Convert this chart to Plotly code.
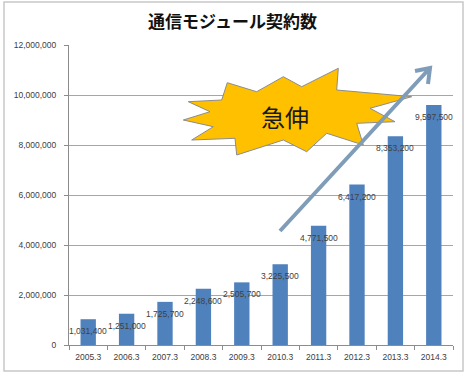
import plotly.graph_objects as go

categories = ["2005.3", "2006.3", "2007.3", "2008.3", "2009.3",
              "2010.3", "2011.3", "2012.3", "2013.3", "2014.3"]
contracts = [1031400, 1251000, 1725700, 2248600, 2505700,
             3225500, 4771500, 6417200, 8353200, 9597500]
value_labels = ["1,031,400", "1,251,000", "1,725,700", "2,248,600", "2,505,700",
                "3,225,500", "4,771,500", "6,417,200", "8,353,200", "9,597,500"]
y_tick_vals = [0, 2000000, 4000000, 6000000, 8000000, 10000000, 12000000]
y_tick_text = ["0", "2,000,000", "4,000,000", "6,000,000", "8,000,000",
               "10,000,000", "12,000,000"]
title_text = "通信モジュール契約数"
burst_text = "急伸"

W, H = 465, 378
ML, MR, MT, MB = 69, 12, 45, 33
PW, PH = W - ML - MR, H - MT - MB


def px(x):
    return (x - ML) / PW


def py(y):
    return (H - MB - y) / PH


fig = go.Figure()
fig.add_trace(go.Bar(
    x=categories, y=contracts,
    marker=dict(color="#4F81BD", line=dict(width=0)),
    width=0.4,
    hoverinfo="skip",
))

label_font = dict(family="Liberation Sans, Arial, sans-serif", size=8.5, color="#404040")
annotations = []
for i, (v, t) in enumerate(zip(contracts, value_labels)):
    # category axis: position annotations by category index
    annotations.append(dict(x=i, y=v, xref="x", yref="y", text=t, showarrow=False, yshift=-12,
                            font=label_font, xanchor="center", yanchor="middle"))

# starburst
burst_pts = [(188.3, 101.7), (221.7, 100), (227.3, 82.7), (256.7, 91.7), (283.3, 76.7),
             (301.7, 86.7), (338.3, 68.3), (336.7, 90), (411.7, 96.7), (370, 108.3),
             (395, 121.7), (356.7, 123.3), (363.3, 145), (326.7, 133.3), (306.7, 151.7),
             (283.3, 140), (236.7, 155), (235, 138.3), (191.7, 140), (213.3, 126.7),
             (183.3, 120), (210, 111.7)]
path = "M " + " L ".join(f"{px(x):.4f},{py(y):.4f}" for x, y in burst_pts) + " Z"

shapes = [
    dict(type="rect", xref="paper", yref="paper",
         x0=px(4), x1=px(463), y0=py(371), y1=py(2),
         line=dict(color="#c8c8c8", width=1.5), fillcolor="rgba(0,0,0,0)", layer="below"),
    dict(type="path", xref="paper", yref="paper", path=path,
         fillcolor="#FFC000", line=dict(color="#8c8c8c", width=1)),
    dict(type="path", xref="paper", yref="paper",
         path=(f"M {px(280):.4f},{py(231):.4f} L {px(430):.4f},{py(68):.4f} "
               f"M {px(415):.4f},{py(71):.4f} L {px(430):.4f},{py(68):.4f} L {px(428):.4f},{py(84):.4f}"),
         line=dict(color="#7F9CB8", width=4)),
]

annotations.append(dict(x=px(285), y=py(116), xref="paper", yref="paper", text=burst_text,
                        showarrow=False, xanchor="center", yanchor="middle",
                        font=dict(family="Noto Sans CJK JP", size=24, color="#1a1a1a")))

fig.update_layout(
    width=W, height=H,
    margin=dict(l=ML, r=MR, t=MT, b=MB),
    paper_bgcolor="white", plot_bgcolor="white",
    showlegend=False,
    title=dict(text=title_text, x=0.5, xref="container", xanchor="center",
               y=1 - 22 / H, yref="container", yanchor="middle",
               font=dict(family="Noto Sans CJK JP", size=17, color="#111111", weight="bold")),
    xaxis=dict(type="category", showgrid=False, showline=True, linecolor="#8c8c8c",
               linewidth=1, ticks="outside", tickson="boundaries", ticklen=4,
               tickcolor="#8c8c8c", ticklabelstandoff=4, tickangle=0,
               range=[-0.5, 9.5],
               tickfont=dict(family="Liberation Sans, Arial, sans-serif", size=8.5, color="#404040")),
    yaxis=dict(range=[0, 12000000], tickvals=y_tick_vals, ticktext=y_tick_text,
               showgrid=True, gridcolor="#a6a6a6", gridwidth=1, showline=True,
               linecolor="#8c8c8c", ticks="outside", ticklen=4, tickcolor="#8c8c8c",
               zeroline=False, ticklabelstandoff=6,
               tickfont=dict(family="Liberation Sans, Arial, sans-serif", size=8.5, color="#404040")),
    annotations=annotations,
    shapes=shapes,
)

fig.write_html("out.html")
